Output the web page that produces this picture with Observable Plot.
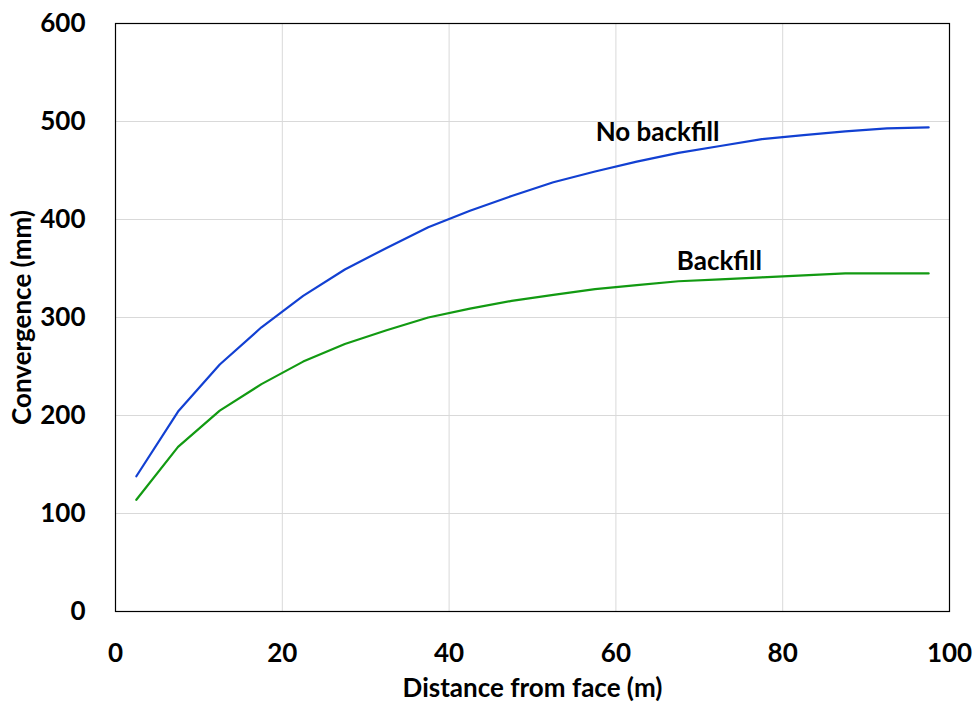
<!DOCTYPE html>
<html>
<head>
<meta charset="utf-8">
<script src="https://cdn.jsdelivr.net/npm/d3@7"></script>
<script src="https://cdn.jsdelivr.net/npm/@observablehq/plot@0.6"></script>
<style>
  html, body { margin: 0; padding: 0; background: #fff; }
</style>
</head>
<body>
<div id="chart"></div>
<script>
const distance = [2.5, 7.5, 12.5, 17.5, 22.5, 27.5, 32.5, 37.5, 42.5, 47.5, 52.5, 57.5, 62.5, 67.5, 72.5, 77.5, 82.5, 87.5, 92.5, 97.5];
const noBackfill = [138, 204, 252, 290, 322, 349, 371, 392, 409, 424, 438, 449, 459, 468, 475, 482, 486, 490, 493, 494];
const backfill = [114, 168, 205, 232, 255, 273, 287, 300, 309, 317, 323, 329, 333, 337, 339, 341, 343, 345, 345, 345];
const seriesNames = ["No backfill", "Backfill"];
const seriesColors = ["#1240d2", "#129a12"];
const labelPos = [{x: 65, y: 489}, {x: 72.4, y: 357}];
const xTicks = [0, 20, 40, 60, 80, 100];
const yTicks = [0, 100, 200, 300, 400, 500, 600];

const rows = [];
distance.forEach((d, i) => {
  rows.push({series: seriesNames[0], x: d, y: noBackfill[i]});
  rows.push({series: seriesNames[1], x: d, y: backfill[i]});
});
const labels = seriesNames.map((s, i) => ({series: s, x: labelPos[i].x, y: labelPos[i].y}));

const chart = Plot.plot({
  width: 978,
  height: 705,
  marginLeft: 115,
  marginRight: 29,
  marginTop: 23,
  marginBottom: 94,
  style: {fontFamily: "Lato, 'Open Sans', sans-serif", fontWeight: "bold", fontSize: "26px", color: "#000", background: "#fff"},
  x: {domain: [0, 100]},
  y: {domain: [0, 600]},
  color: {domain: seriesNames, range: seriesColors},
  marks: [
    Plot.gridX(xTicks.slice(1, -1), {stroke: "#d9d9d9", strokeOpacity: 1, strokeWidth: 1}),
    Plot.gridY(yTicks.slice(1, -1), {stroke: "#d9d9d9", strokeOpacity: 1, strokeWidth: 1}),
    Plot.frame({stroke: "#000", strokeWidth: 1.2}),
    Plot.axisX(xTicks, {tickSize: 0, tickPadding: 32, fontSize: 26, fontWeight: "bold", label: "Distance from face (m)", labelAnchor: "center", labelArrow: "none", labelOffset: 85}),
    Plot.axisY(yTicks, {tickSize: 0, tickPadding: 30, fontSize: 26, fontWeight: "bold", label: "Convergence (mm)", labelAnchor: "center", labelArrow: "none", labelOffset: 103}),
    Plot.line(rows, {x: "x", y: "y", z: "series", stroke: "series", strokeWidth: 2.2}),
    Plot.text(labels, {x: "x", y: "y", text: "series", fontSize: 26, fontWeight: "bold", fill: "#000"})
  ]
});
document.getElementById("chart").appendChild(chart);
</script>
</body>
</html>
